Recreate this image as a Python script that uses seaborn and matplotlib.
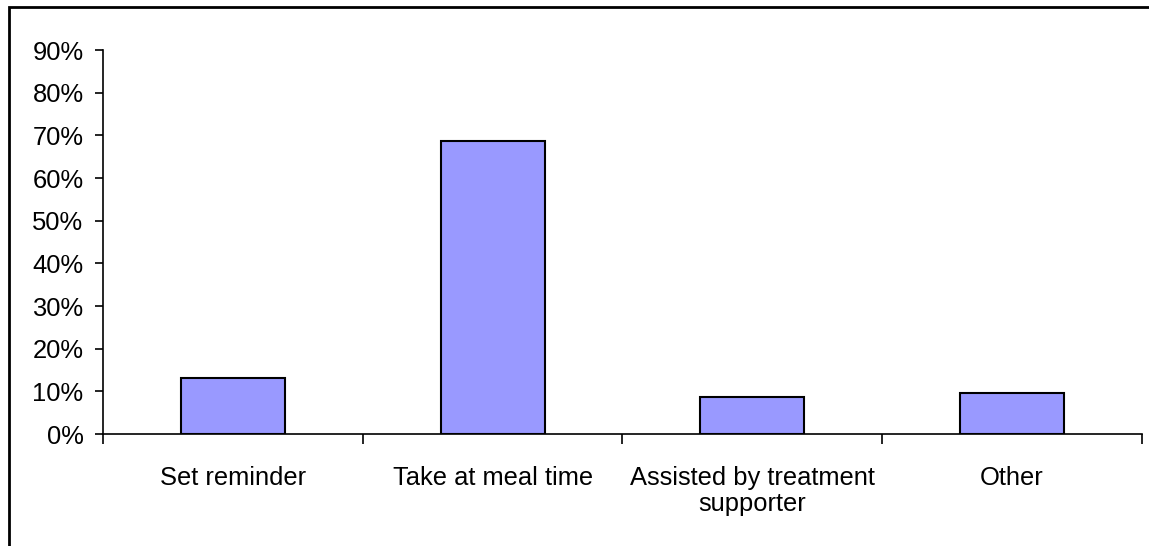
import matplotlib
matplotlib.use("Agg")
import matplotlib.pyplot as plt
from matplotlib.lines import Line2D
from matplotlib.ticker import PercentFormatter, FixedLocator
import seaborn as sns
import pandas as pd

categories = ["Set reminder", "Take at meal time",
              "Assisted by treatment\nsupporter", "Other"]
shares = [0.131, 0.687, 0.087, 0.096]
y_ticks = [0.0, 0.1, 0.2, 0.3, 0.4, 0.5, 0.6, 0.7, 0.8, 0.9]

sns.set_theme(style="white")
plt.rcParams["font.family"] = ["Liberation Sans", "DejaVu Sans"]

df = pd.DataFrame({"category": categories, "share": shares})

fig = plt.figure(figsize=(11.49, 5.46), dpi=100)
ax = fig.add_axes([0.0896, 0.2051, 0.9043, 0.7033])

sns.barplot(data=df, x="category", y="share", ax=ax, width=0.4,
            color="#9999FF", saturation=1, edgecolor="black", linewidth=1.5)

ax.set_xlim(-0.5, len(categories) - 0.5)
ax.set_ylim(0, 0.9)
ax.yaxis.set_major_locator(FixedLocator(y_ticks))
ax.yaxis.set_major_formatter(PercentFormatter(1.0, decimals=0))

# category separators as major ticks, labels on minor positions
ax.xaxis.set_major_locator(FixedLocator([i - 0.5 for i in range(len(categories) + 1)]))
ax.xaxis.set_minor_locator(FixedLocator(list(range(len(categories)))))
ax.set_xticklabels([], minor=False)
ax.set_xticklabels(categories, minor=True)
ax.tick_params(axis="x", which="major", direction="out", length=7, width=1.2,
               color="black", bottom=True)
ax.tick_params(axis="x", which="minor", length=0, pad=23, labelsize=18.4,
               labelcolor="black")
ax.tick_params(axis="y", direction="out", length=6, width=1.2, color="black",
               left=True, pad=8, labelsize=18.4, labelcolor="black")
for lbl in ax.get_xticklabels(minor=True):
    lbl.set_linespacing(1.12)

ax.set_xlabel("")
ax.set_ylabel("")
ax.patch.set_visible(False)
for side in ("top", "right"):
    ax.spines[side].set_visible(False)
for side in ("left", "bottom"):
    ax.spines[side].set_color("black")
    ax.spines[side].set_linewidth(1.2)

# outer chart frame: left and top edges
fig.add_artist(Line2D([9 / 1149, 9 / 1149, 1.0], [0, 1 - 7 / 546, 1 - 7 / 546],
                      transform=fig.transFigure, color="black", linewidth=2,
                      solid_capstyle="butt", solid_joinstyle="miter"))

fig.savefig("out.png", dpi=100, facecolor="white")
